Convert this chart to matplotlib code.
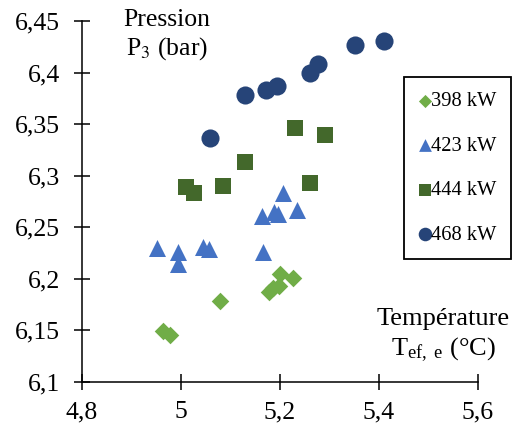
import matplotlib
matplotlib.use('Agg')
import matplotlib.pyplot as plt

plt.rcParams['font.family'] = ['Liberation Serif', 'DejaVu Serif']
plt.rcParams['mathtext.fontset'] = 'stix'

# 398 kW
x_398 = [4.964, 4.978, 5.079, 5.178, 5.186, 5.197, 5.200, 5.227]
y_398 = [6.149, 6.1455, 6.179, 6.1875, 6.191, 6.193, 6.205, 6.2005]

# 423 kW
x_423 = [4.952, 4.993, 4.993, 5.045, 5.057, 5.166, 5.164, 5.187, 5.195, 5.207, 5.234]
y_423 = [6.2296, 6.2257, 6.214, 6.231, 6.2286, 6.2257, 6.261, 6.265, 6.263, 6.283, 6.267]

# 444 kW
x_444 = [5.011, 5.027, 5.085, 5.129, 5.231, 5.261, 5.291]
y_444 = [6.289, 6.283, 6.290, 6.313, 6.346, 6.293, 6.339]

# 468 kW
x_468 = [5.059, 5.129, 5.172, 5.194, 5.261, 5.277, 5.352, 5.410]
y_468 = [6.337, 6.378, 6.383, 6.387, 6.400, 6.408, 6.427, 6.431]

xticks = [4.8, 5.0, 5.2, 5.4, 5.6]
xtick_labels = ['4,8', '5', '5,2', '5,4', '5,6']
yticks = [6.1, 6.15, 6.2, 6.25, 6.3, 6.35, 6.4, 6.45]
ytick_labels = ['6,1', '6,15', '6,2', '6,25', '6,3', '6,35', '6,4', '6,45']

fig = plt.figure(figsize=(5.17, 4.29), dpi=100)
ax = fig.add_axes([0.1586, 0.1096, 0.766, 0.8414])

ax.scatter(x_398, y_398, marker='D', s=80, color='#70AD47', label='398 kW', zorder=3, linewidths=0)
ax.scatter(x_423, y_423, marker='^', s=150, color='#4472C4', label='423 kW', zorder=3, linewidths=0)
ax.scatter(x_444, y_444, marker='s', s=130, color='#43682B', label='444 kW', zorder=3, linewidths=0)
ax.scatter(x_468, y_468, marker='o', s=170, color='#264478', label='468 kW', zorder=3, linewidths=0)

ax.set_xlim(4.8, 5.6)
ax.set_ylim(6.1, 6.45)
ax.set_xticks(xticks)
ax.set_xticklabels(xtick_labels)
ax.set_yticks(yticks)
ax.set_yticklabels(ytick_labels)
ax.tick_params(direction='inout', length=11.5, width=1.1, labelsize=18.5)
ax.tick_params(axis='x', pad=8)
ax.tick_params(axis='y', pad=10)

for s in ['top', 'right']:
    ax.spines[s].set_visible(False)
for s in ['left', 'bottom']:
    ax.spines[s].set_linewidth(1.1)

ax.text(0.215, 0.96, 'Pression\nP$_3$ (bar)', transform=ax.transAxes,
        ha='center', va='center', fontsize=18.5, linespacing=1.2)
ax.text(0.912, 0.127, 'Température\nT$_\\mathregular{ef,\\ e}$ (°C)', transform=ax.transAxes,
        ha='center', va='center', fontsize=19, linespacing=1.25)

leg = ax.legend(loc='upper left', bbox_to_anchor=(0.813, 0.845), borderaxespad=0,
                fontsize=14.8, fancybox=False, edgecolor='black', framealpha=1,
                labelspacing=1.22, handlelength=0.6, handletextpad=0.0,
                borderpad=0.72, scatterpoints=1, markerscale=0.75)
leg.get_frame().set_linewidth(1.3)

fig.savefig('out.png', dpi=100)
